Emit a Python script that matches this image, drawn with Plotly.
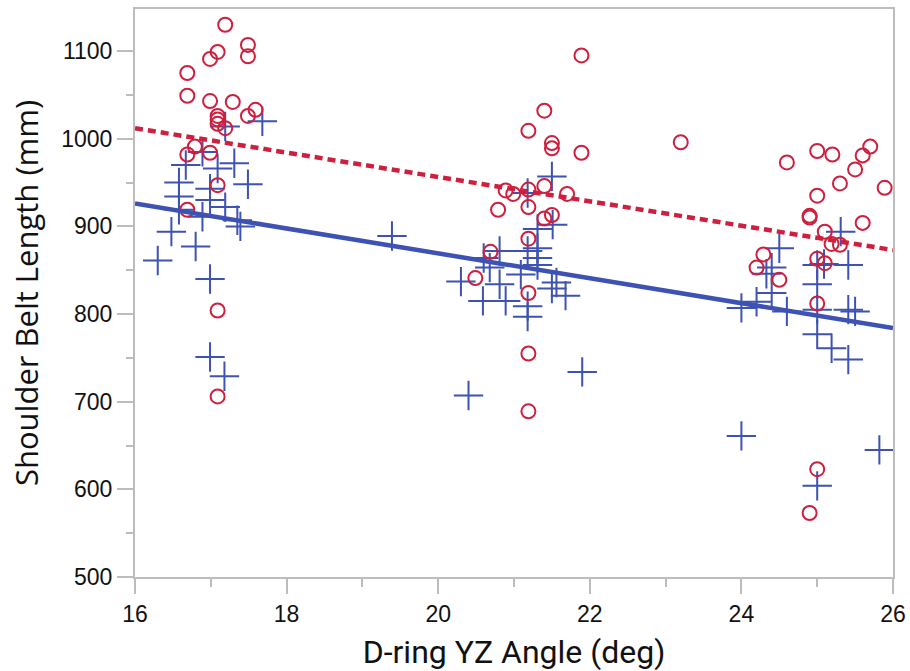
import plotly.graph_objects as go

# Red open circles (series A)
red_x = [17.19, 17.49, 17.49, 17.09, 16.99, 16.69, 16.69, 16.99, 17.29, 17.59, 17.49,
         17.09, 17.09, 17.09, 17.19, 16.99, 16.79, 16.69, 17.09, 16.69, 17.09, 17.09,
         21.89, 21.40, 21.19, 21.50, 21.50, 21.89, 20.89, 20.99, 21.19, 21.40, 21.70,
         20.79, 21.19, 21.40, 21.50, 21.19, 20.69, 20.49, 21.19, 21.19, 21.19, 23.20,
         25.70, 25.60, 25.00, 25.20, 24.60, 25.50, 25.30, 25.89, 25.00, 24.90, 24.90,
         25.60, 25.10, 25.19, 25.30, 24.29, 24.20, 25.00, 25.10, 24.50, 25.00, 25.00, 24.90]
red_y = [1130, 1107, 1094, 1099, 1091, 1075, 1049, 1043, 1042, 1033, 1026,
         1026, 1022, 1017, 1012, 984, 991, 982, 947, 919, 804, 706,
         1095, 1032, 1009, 995, 989, 984, 941, 937, 942, 946, 937,
         919, 922, 909, 913, 886, 871, 841, 824, 755, 689, 996,
         991, 981, 986, 982, 973, 965, 949, 944, 935, 912, 910,
         904, 894, 880, 879, 868, 853, 863, 858, 839, 812, 623, 573]

# Blue crosses (series B)
blue_x = [17.68, 17.19, 16.89, 16.67, 17.09, 17.31, 16.58, 16.99, 17.49, 16.58, 16.99,
          17.19, 16.58, 16.89, 17.35, 17.39, 16.48, 16.80, 16.30, 16.99, 16.99, 17.18,
          19.39,
          21.50, 21.18, 21.31, 21.51, 20.81, 21.18, 21.31, 20.60, 21.31, 21.31, 20.68,
          21.09, 20.30, 20.81, 21.56, 21.50, 21.68, 20.59, 20.89, 21.18, 21.18, 21.90, 20.40,
          25.31, 24.50, 24.40, 24.33, 25.00, 25.09, 25.41, 25.00, 24.40, 24.20, 24.00,
          24.60, 25.00, 25.41, 25.50, 25.00, 25.19, 25.41, 24.00, 25.82, 25.00]
blue_y = [1020, 1014, 985, 970, 966, 972, 950, 943, 948, 934, 930,
          922, 919, 911, 907, 900, 894, 877, 861, 840, 751, 729,
          889,
          957, 938, 897, 902, 872, 872, 875, 864, 864, 856, 853,
          845, 837, 834, 836, 829, 821, 815, 815, 809, 797, 734, 707,
          894, 875, 853, 846, 856, 857, 856, 834, 824, 814, 807,
          803, 805, 805, 803, 777, 761, 748, 661, 645, 604]

# Fitted lines (endpoints)
fit_x = [16, 26]
red_fit = [1012, 873]
blue_fit = [926, 784]

RED = "#cf1f3e"
BLUE = "#3d52b2"
AXIS = "#bdbdbd"

fig = go.Figure()
fig.add_trace(go.Scatter(x=blue_x, y=blue_y, mode="markers",
                         marker=dict(symbol="cross-thin-open", size=21, color=BLUE,
                                     line=dict(color=BLUE, width=2)),
                         showlegend=False))
fig.add_trace(go.Scatter(x=red_x, y=red_y, mode="markers",
                         marker=dict(symbol="circle-open", size=14, color=RED,
                                     line=dict(color=RED, width=2)),
                         showlegend=False))
fig.add_trace(go.Scatter(x=fit_x, y=blue_fit, mode="lines",
                         line=dict(color=BLUE, width=4.5), showlegend=False))
fig.add_trace(go.Scatter(x=fit_x, y=red_fit, mode="lines",
                         line=dict(color=RED, width=4.5, dash="8px,5px"), showlegend=False))

tickfont = dict(family="Liberation Sans, Arial", size=23, color="#111")
fig.update_layout(
    width=910, height=671,
    margin=dict(l=135, r=17, t=9, b=94),
    plot_bgcolor="white", paper_bgcolor="white",
    xaxis=dict(range=[16, 26], dtick=2, tick0=16, showgrid=False, zeroline=False,
               automargin=False,
               showline=True, mirror=True, linecolor=AXIS, linewidth=2,
               ticks="outside", ticklen=15, tickcolor=AXIS, tickwidth=2,
               minor=dict(dtick=1, ticks="outside", ticklen=8, tickcolor=AXIS, tickwidth=2),
               tickfont=tickfont,
               title=dict(text="D-ring YZ Angle (deg)", standoff=21,
                          font=dict(family="Roboto, Arial", size=32, color="#111"))),
    yaxis=dict(range=[500, 1148], dtick=100, tick0=500, showgrid=False, zeroline=False,
               automargin=False,
               showline=True, mirror=True, linecolor=AXIS, linewidth=2,
               ticks="outside", ticklen=16, tickcolor=AXIS, tickwidth=2,
               minor=dict(dtick=50, ticks="outside", ticklen=7, tickcolor=AXIS, tickwidth=2),
               tickfont=tickfont,
               title=dict(text="Shoulder Belt Length (mm)", standoff=13,
                          font=dict(family="Open Sans, Noto Sans, Arial", size=31, color="#111"))),
)
fig.write_html("out.html", config={"displayModeBar": False},
               post_script="document.body.style.margin='0';")
